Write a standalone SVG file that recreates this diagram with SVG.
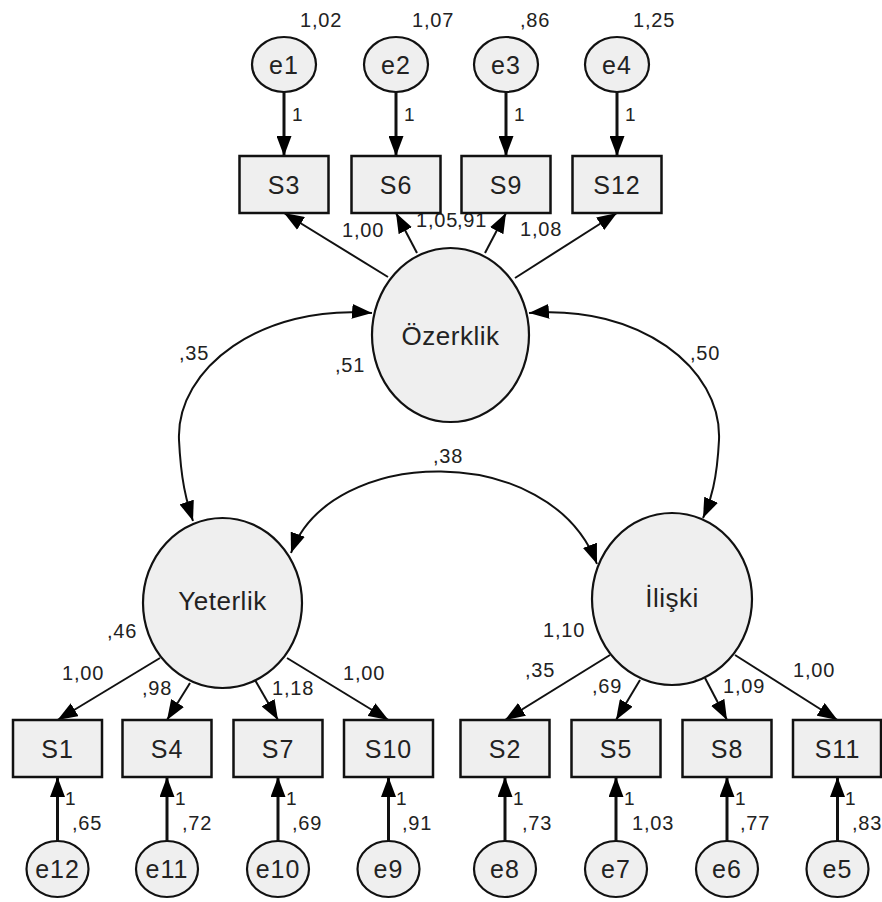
<svg xmlns="http://www.w3.org/2000/svg" width="882" height="902" viewBox="0 0 882 902">
<defs>
<marker id="ah" markerUnits="userSpaceOnUse" markerWidth="20" markerHeight="15" refX="20" refY="7.5" orient="auto-start-reverse" viewBox="0 0 20 15">
<path d="M0,0 L20,7.5 L0,15 z" fill="#000"/>
</marker>
<style>
.box{fill:#efefef;stroke:#111;stroke-width:2.5}
.ell{fill:#efefef;stroke:#111;stroke-width:2.2}
.lbl{font-family:"Liberation Sans",Arial,sans-serif;font-size:25px;fill:#222;text-anchor:middle;letter-spacing:1px}
.lat{font-family:"Liberation Sans",Arial,sans-serif;font-size:26px;fill:#222;text-anchor:middle;letter-spacing:0.5px}
.num{font-family:"Liberation Sans",Arial,sans-serif;font-size:20px;fill:#222;letter-spacing:0.8px}
.one{font-family:"Liberation Sans",Arial,sans-serif;font-size:19px;fill:#222}
.ln{stroke:#111;stroke-width:2;fill:none;marker-end:url(#ah)}
.err{stroke:#111;stroke-width:3;fill:none;marker-end:url(#ah)}
.cov{stroke:#111;stroke-width:2;fill:none;marker-start:url(#ah);marker-end:url(#ah)}
</style>
</defs>
<rect width="882" height="902" fill="#fff"/>

<g id="connectors">
<line class="err" x1="284" y1="92" x2="284" y2="156"/>
<line class="err" x1="396" y1="92" x2="396" y2="156"/>
<line class="err" x1="506" y1="92" x2="506" y2="156"/>
<line class="err" x1="617" y1="92" x2="617" y2="156"/>
<line class="err" x1="57.5" y1="841" x2="57.5" y2="777"/>
<line class="err" x1="167" y1="841" x2="167" y2="777"/>
<line class="err" x1="278" y1="841" x2="278" y2="777"/>
<line class="err" x1="388.5" y1="841" x2="388.5" y2="777"/>
<line class="err" x1="505" y1="841" x2="505" y2="777"/>
<line class="err" x1="616" y1="841" x2="616" y2="777"/>
<line class="err" x1="727" y1="841" x2="727" y2="777"/>
<line class="err" x1="837.5" y1="841" x2="837.5" y2="777"/>
<line class="ln" x1="388" y1="277" x2="284" y2="213"/>
<line class="ln" x1="417" y1="253" x2="396" y2="213"/>
<line class="ln" x1="485" y1="253" x2="506" y2="213"/>
<line class="ln" x1="515" y1="278" x2="617" y2="213"/>
<line class="ln" x1="160" y1="658" x2="57.5" y2="720"/>
<line class="ln" x1="190" y1="683" x2="167" y2="720"/>
<line class="ln" x1="255" y1="680" x2="278" y2="720"/>
<line class="ln" x1="287" y1="658" x2="388.5" y2="720"/>
<line class="ln" x1="610" y1="655" x2="505" y2="720"/>
<line class="ln" x1="640" y1="680" x2="616" y2="720"/>
<line class="ln" x1="705" y1="678" x2="727" y2="720"/>
<line class="ln" x1="735" y1="655" x2="837.5" y2="720"/>
<path class="cov" d="M372,313 C262,304 176,368 179,440 C181,480 186,500 193,521"/>
<path class="cov" d="M529,313 C639,304 722,368 719,440 C717,480 711,500 703,518"/>
<path class="cov" d="M291,553 C330,445 550,440 597,564"/>
</g>

<g id="labels">
<text class="num" x="300" y="27">1,02</text>
<text class="num" x="412" y="27">1,07</text>
<text class="num" x="520" y="27">,86</text>
<text class="num" x="633" y="27">1,25</text>
<text class="one" x="292" y="121">1</text>
<text class="one" x="404" y="121">1</text>
<text class="one" x="514" y="121">1</text>
<text class="one" x="625" y="121">1</text>
<text class="num" x="342" y="237">1,00</text>
<text class="num" x="416" y="227">1,05</text>
<text class="num" x="457" y="227">,91</text>
<text class="num" x="520" y="236">1,08</text>
<text class="num" x="179" y="360">,35</text>
<text class="num" x="335" y="372">,51</text>
<text class="num" x="690" y="360">,50</text>
<text class="num" x="433" y="463">,38</text>
<text class="num" x="107" y="638">,46</text>
<text class="num" x="543" y="637">1,10</text>
<text class="num" x="62" y="680">1,00</text>
<text class="num" x="142" y="695">,98</text>
<text class="num" x="272" y="695">1,18</text>
<text class="num" x="343" y="680">1,00</text>
<text class="num" x="525" y="677">,35</text>
<text class="num" x="592" y="693">,69</text>
<text class="num" x="723" y="693">1,09</text>
<text class="num" x="793" y="677">1,00</text>
<text class="one" x="65" y="805">1</text>
<text class="one" x="175" y="805">1</text>
<text class="one" x="286" y="805">1</text>
<text class="one" x="396" y="805">1</text>
<text class="one" x="513" y="805">1</text>
<text class="one" x="624" y="805">1</text>
<text class="one" x="735" y="805">1</text>
<text class="one" x="845" y="805">1</text>
<text class="num" x="72" y="830">,65</text>
<text class="num" x="182" y="830">,72</text>
<text class="num" x="292" y="830">,69</text>
<text class="num" x="402" y="830">,91</text>
<text class="num" x="522" y="830">,73</text>
<text class="num" x="632" y="830">1,03</text>
<text class="num" x="740" y="830">,77</text>
<text class="num" x="852" y="830">,83</text>
</g>

<g id="e1"><ellipse class="ell" cx="284" cy="64.5" rx="32" ry="27.5"/><text class="lbl" x="284" y="73.5">e1</text></g>
<g id="e2"><ellipse class="ell" cx="396" cy="64.5" rx="32" ry="27.5"/><text class="lbl" x="396" y="73.5">e2</text></g>
<g id="e3"><ellipse class="ell" cx="506" cy="64.5" rx="32" ry="27.5"/><text class="lbl" x="506" y="73.5">e3</text></g>
<g id="e4"><ellipse class="ell" cx="617" cy="64.5" rx="32" ry="27.5"/><text class="lbl" x="617" y="73.5">e4</text></g>

<g id="S3"><rect class="box" x="239.5" y="156" width="89" height="57"/><text class="lbl" x="284" y="193.5">S3</text></g>
<g id="S6"><rect class="box" x="351.5" y="156" width="89" height="57"/><text class="lbl" x="396" y="193.5">S6</text></g>
<g id="S9"><rect class="box" x="461.5" y="156" width="89" height="57"/><text class="lbl" x="506" y="193.5">S9</text></g>
<g id="S12"><rect class="box" x="572.5" y="156" width="89" height="57"/><text class="lbl" x="617" y="193.5">S12</text></g>

<g id="Ozerklik"><ellipse class="ell" cx="450.5" cy="335" rx="78.5" ry="87"/><text class="lat" x="450.5" y="345">Özerklik</text></g>
<g id="Yeterlik"><ellipse class="ell" cx="222.5" cy="603" rx="79.5" ry="85"/><text class="lat" x="222.5" y="610">Yeterlik</text></g>
<g id="Iliski"><ellipse class="ell" cx="672" cy="599" rx="80" ry="86"/><text class="lat" x="672" y="607">İlişki</text></g>

<g id="S1"><rect class="box" x="13" y="720" width="89" height="57"/><text class="lbl" x="57.5" y="757.5">S1</text></g>
<g id="S4"><rect class="box" x="122.5" y="720" width="89" height="57"/><text class="lbl" x="167" y="757.5">S4</text></g>
<g id="S7"><rect class="box" x="233.5" y="720" width="89" height="57"/><text class="lbl" x="278" y="757.5">S7</text></g>
<g id="S10"><rect class="box" x="344" y="720" width="89" height="57"/><text class="lbl" x="388.5" y="757.5">S10</text></g>
<g id="S2"><rect class="box" x="460.5" y="720" width="89" height="57"/><text class="lbl" x="505" y="757.5">S2</text></g>
<g id="S5"><rect class="box" x="571.5" y="720" width="89" height="57"/><text class="lbl" x="616" y="757.5">S5</text></g>
<g id="S8"><rect class="box" x="682.5" y="720" width="89" height="57"/><text class="lbl" x="727" y="757.5">S8</text></g>
<g id="S11"><rect class="box" x="793" y="720" width="88" height="57"/><text class="lbl" x="837.5" y="757.5">S11</text></g>

<g id="e12"><ellipse class="ell" cx="57.5" cy="869" rx="31" ry="28"/><text class="lbl" x="57.5" y="878">e12</text></g>
<g id="e11"><ellipse class="ell" cx="167" cy="869" rx="31" ry="28"/><text class="lbl" x="167" y="878">e11</text></g>
<g id="e10"><ellipse class="ell" cx="278" cy="869" rx="31" ry="28"/><text class="lbl" x="278" y="878">e10</text></g>
<g id="e9"><ellipse class="ell" cx="388.5" cy="869" rx="31" ry="28"/><text class="lbl" x="388.5" y="878">e9</text></g>
<g id="e8"><ellipse class="ell" cx="505" cy="869" rx="31" ry="28"/><text class="lbl" x="505" y="878">e8</text></g>
<g id="e7"><ellipse class="ell" cx="616" cy="869" rx="31" ry="28"/><text class="lbl" x="616" y="878">e7</text></g>
<g id="e6"><ellipse class="ell" cx="727" cy="869" rx="31" ry="28"/><text class="lbl" x="727" y="878">e6</text></g>
<g id="e5"><ellipse class="ell" cx="837.5" cy="869" rx="31" ry="28"/><text class="lbl" x="837.5" y="878">e5</text></g>
</svg>
